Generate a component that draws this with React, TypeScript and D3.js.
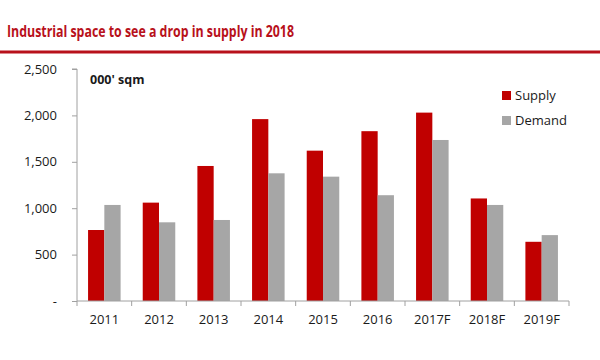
import { useEffect, useRef } from "react";
import * as d3 from "d3";

const years = ["2011", "2012", "2013", "2014", "2015", "2016", "2017F", "2018F", "2019F"];
const supply = [765, 1060, 1455, 1960, 1620, 1830, 2030, 1105, 638];
const demand = [1035, 848, 873, 1376, 1340, 1140, 1735, 1035, 710];
const seriesNames = ["Supply", "Demand"];
const seriesColors = ["#c00000", "#a6a6a6"];
const yTicks = [0, 500, 1000, 1500, 2000, 2500];

const App = () => {
  const svgRef = useRef<SVGSVGElement>(null);

  useEffect(() => {
    const svg = d3.select(svgRef.current);
    const width = 600;
    const height = 360;
    const margin = { top: 69, right: 31, bottom: 59, left: 77 };
    const font = "Open Sans, Liberation Sans, sans-serif";

    svg.selectAll("*").remove();

    // titolo e riga rossa
    svg
      .append("text")
      .attr("x", 7)
      .attr("y", 37)
      .attr("fill", "#b8111b")
      .attr("font-family", "Liberation Sans Narrow, Open Sans, sans-serif")
      .attr("font-weight", "bold")
      .attr("font-size", 16)
      .attr("textLength", 287)
      .attr("lengthAdjust", "spacingAndGlyphs")
      .text("Industrial space to see a drop in supply in 2018");

    svg
      .append("rect")
      .attr("x", 0)
      .attr("y", 50.5)
      .attr("width", width)
      .attr("height", 3)
      .attr("fill", "#b8111b");

    const x0 = d3
      .scaleBand()
      .domain(years)
      .range([margin.left, width - margin.right]);

    const x1 = d3
      .scaleBand()
      .domain(seriesNames)
      .range([0, x0.bandwidth()])
      .paddingInner(0)
      .paddingOuter(0.68);

    const y = d3
      .scaleLinear()
      .domain([0, 2500])
      .range([height - margin.bottom, margin.top]);

    // barre
    const groups = svg
      .append("g")
      .selectAll("g")
      .data(years)
      .enter()
      .append("g")
      .attr("transform", (d) => `translate(${x0(d)},0)`);

    groups
      .selectAll("rect")
      .data((d, i) => [
        { key: "Supply", value: supply[i] },
        { key: "Demand", value: demand[i] },
      ])
      .enter()
      .append("rect")
      .attr("x", (d) => x1(d.key)!)
      .attr("y", (d) => y(d.value))
      .attr("width", x1.bandwidth())
      .attr("height", (d) => y(0) - y(d.value))
      .attr("fill", (d, i) => seriesColors[i]);

    const axisColor = "#a0a0a0";
    const textColor = "#1a1a1a";

    // asse Y
    const yAxis = svg
      .append("g")
      .attr("transform", `translate(${margin.left},0)`)
      .call(
        d3
          .axisLeft(y)
          .tickValues(yTicks)
          .tickSize(5)
          .tickPadding(15)
          .tickFormat((d) => (d === 0 ? "-" : d3.format(",")(d as number)))
      );
    yAxis.select(".domain").attr("stroke", axisColor).attr("d", `M-5,${y(2500)}H0V${y(0)}`);
    yAxis.selectAll(".tick line").attr("stroke", axisColor);
    yAxis
      .selectAll(".tick text")
      .attr("fill", textColor)
      .attr("font-family", font)
      .attr("font-size", 13);

    // asse X
    const xAxis = svg
      .append("g")
      .attr("transform", `translate(0,${height - margin.bottom})`)
      .call(d3.axisBottom(x0).tickSize(0).tickPadding(14));
    xAxis.select(".domain").attr("stroke", axisColor).attr("d", `M${margin.left},0H${width - margin.right}`);
    xAxis
      .selectAll(".tick text")
      .attr("fill", textColor)
      .attr("font-family", font)
      .attr("font-size", 13);

    // tacche tra le categorie
    svg
      .append("g")
      .selectAll("line")
      .data(years.map((d) => x0(d)!).concat([width - margin.right]))
      .enter()
      .append("line")
      .attr("x1", (d) => d)
      .attr("x2", (d) => d)
      .attr("y1", height - margin.bottom)
      .attr("y2", height - margin.bottom + 5)
      .attr("stroke", axisColor);

    // unità
    svg
      .append("text")
      .attr("x", 90)
      .attr("y", 84)
      .attr("fill", textColor)
      .attr("font-family", font)
      .attr("font-weight", "bold")
      .attr("font-size", 12.5)
      .text("000' sqm");

    // legenda
    const legend = svg
      .append("g")
      .selectAll("g")
      .data(seriesNames)
      .enter()
      .append("g")
      .attr("transform", (d, i) => `translate(502,${91 + i * 25})`);

    legend
      .append("rect")
      .attr("width", 9)
      .attr("height", 9)
      .attr("fill", (d, i) => seriesColors[i]);

    legend
      .append("text")
      .attr("x", 13)
      .attr("y", 9)
      .attr("fill", textColor)
      .attr("font-family", font)
      .attr("font-size", 13)
      .text((d) => d);
  }, []);

  return (
    <svg
      ref={svgRef}
      width={600}
      height={360}
      style={{ position: "absolute", left: 0, top: 0, background: "#fff" }}
    ></svg>
  );
};

export default App;
